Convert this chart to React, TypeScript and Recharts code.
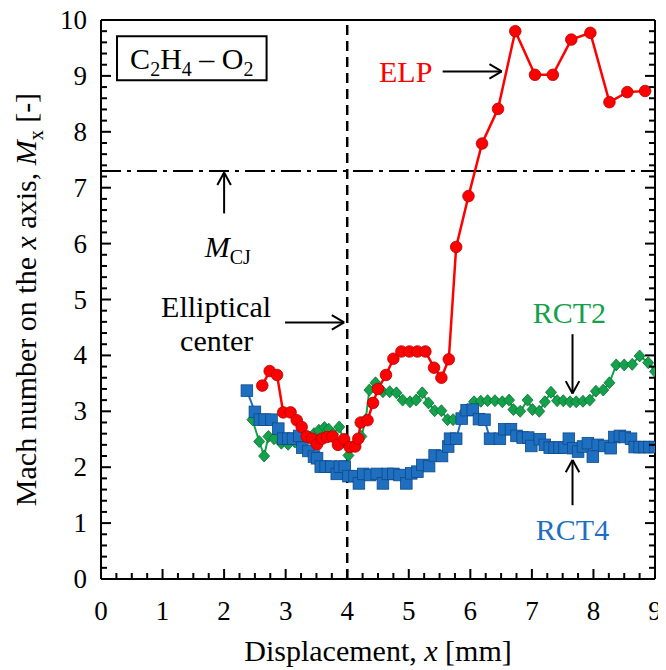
import {
  ComposedChart,
  Line,
  XAxis,
  YAxis,
  ReferenceLine,
  ReferenceArea,
  ReferenceDot,
} from "recharts";

const FONT = '"Liberation Serif", "Times New Roman", serif';

// ELP (red circles)
const elpX = [
  2.62, 2.74, 2.86, 2.96, 3.08, 3.18, 3.26, 3.34, 3.43, 3.51, 3.59, 3.67, 3.76,
  3.85, 3.95, 4.04, 4.13, 4.18, 4.22, 4.33, 4.42, 4.5, 4.63, 4.75, 4.88, 5.01,
  5.14, 5.27, 5.41, 5.53, 5.65, 5.77, 5.97, 6.19, 6.45, 6.73, 7.05, 7.34, 7.64,
  7.95, 8.26, 8.55, 8.84,
];
const elpY = [
  3.46, 3.72, 3.65, 2.98, 2.98, 2.84, 2.72, 2.55, 2.51, 2.41, 2.51, 2.54, 2.55,
  2.4, 2.5, 2.36, 2.37, 2.51, 2.8, 2.84, 3.15, 3.4, 3.65, 3.94, 4.07, 4.07,
  4.07, 4.07, 3.78, 3.6, 3.93, 5.94, 6.85, 7.79, 8.41, 9.8, 9.02, 9.02, 9.65,
  9.77, 8.53, 8.71, 8.73,
];

// RCT2 (green diamonds)
const rct2X = [
  2.46, 2.57, 2.65, 2.72, 2.81, 2.93, 3.04, 3.15, 3.26, 3.36, 3.46, 3.54, 3.63,
  3.7, 3.77, 3.87, 3.95, 4.02, 4.12, 4.23, 4.3, 4.36, 4.46, 4.58, 4.69, 4.8,
  4.9, 5.02, 5.12, 5.22, 5.32, 5.42, 5.53, 5.63, 5.72, 5.91, 6.06, 6.17, 6.28,
  6.4, 6.52, 6.63, 6.7, 6.81, 6.93, 7.01, 7.12, 7.21, 7.31, 7.41, 7.51, 7.62,
  7.72, 7.83, 7.94, 8.04, 8.16, 8.26, 8.37, 8.5, 8.63, 8.75, 8.89, 9.0,
];
const rct2Y = [
  2.85, 2.46, 2.2, 2.55, 2.51, 2.43, 2.41, 2.45, 2.5, 2.55, 2.6, 2.66, 2.71,
  2.68, 2.59, 2.72, 2.45, 2.21, 2.4, 2.55, 2.85, 3.38, 3.51, 3.35, 3.35, 3.33,
  3.2, 3.17, 3.2, 3.33, 3.15, 3.01, 3.01, 2.85, 2.85, 3.0, 3.17, 3.18, 3.19,
  3.19, 3.17, 3.2, 3.03, 3.0, 3.2, 3.03, 3.0, 3.17, 3.34, 3.19, 3.19, 3.17,
  3.17, 3.18, 3.2, 3.36, 3.38, 3.51, 3.83, 3.83, 3.84, 3.99, 3.87, 3.71,
];

// RCT4 (blue squares)
const rct4X = [
  2.37, 2.5, 2.58, 2.66, 2.77, 2.88, 2.96, 3.04, 3.12, 3.22, 3.27, 3.37, 3.46,
  3.51, 3.57, 3.65, 3.74, 3.83, 3.88, 3.96, 4.02, 4.12, 4.19, 4.26, 4.37, 4.48,
  4.58, 4.66, 4.75, 4.85, 4.96, 5.04, 5.14, 5.22, 5.33, 5.42, 5.54, 5.64, 5.67,
  5.77, 5.86, 5.94, 6.04, 6.14, 6.23, 6.32, 6.48, 6.55, 6.66, 6.75, 6.85, 6.94,
  6.99, 7.13, 7.21, 7.29, 7.37, 7.45, 7.53, 7.6, 7.67, 7.75, 7.83, 7.91, 7.99,
  8.07, 8.18, 8.28, 8.34, 8.43, 8.51, 8.61, 8.67, 8.75, 8.83, 8.91, 9.0,
];
const rct4Y = [
  3.37, 2.99, 2.85, 2.85, 2.85, 2.69, 2.51, 2.51, 2.51, 2.56, 2.35, 2.29, 2.19,
  2.16, 2.01, 2.01, 2.01, 1.88, 2.01, 2.01, 1.84, 1.84, 1.71, 1.88, 1.86, 1.88,
  1.71, 1.88, 1.88, 1.86, 1.71, 1.89, 1.92, 2.04, 2.02, 2.21, 2.2, 2.37, 2.51,
  2.51, 2.87, 3.02, 3.03, 2.86, 2.85, 2.51, 2.51, 2.68, 2.68, 2.56, 2.53, 2.53,
  2.38, 2.5, 2.4, 2.35, 2.35, 2.35, 2.35, 2.51, 2.34, 2.28, 2.37, 2.43, 2.19,
  2.4, 2.38, 2.34, 2.54, 2.56, 2.54, 2.51, 2.36, 2.36, 2.36, 2.36, 2.36,
];

const xTickLabels = [0, 1, 2, 3, 4, 5, 6, 7, 8, 9];
const yTickLabels = [0, 1, 2, 3, 4, 5, 6, 7, 8, 9, 10];
const M_CJ = 7.3;
const CENTER_X = 4;

// minor ticks: 4 per unit on x, 5 per unit on y
const xTicks = Array.from({ length: 37 }, (_, i) => i * 0.25);
const yTicks = Array.from({ length: 51 }, (_, i) => Math.round(i * 2) / 10);

const toPoints = (xs: number[], ys: number[]) =>
  xs.map((x, i) => ({ x, y: ys[i] }));
const elpData = toPoints(elpX, elpY);
const rct2Data = toPoints(rct2X, rct2Y);
const rct4Data = toPoints(rct4X, rct4Y);

const isMajor = (v: number) => Math.abs(v - Math.round(v)) < 1e-6;

function BottomTick(props: any) {
  const { x, y, payload } = props;
  const major = isMajor(payload.value);
  return (
    <g>
      <line x1={x} y1={y} x2={x} y2={y - (major ? 10 : 6)} stroke="#000" strokeWidth={2} />
      {major && xTickLabels.includes(Math.round(payload.value)) && (
        <text x={x} y={y + 41} textAnchor="middle" fontSize={27} fontFamily={FONT} fill="#000">
          {Math.round(payload.value)}
        </text>
      )}
    </g>
  );
}

function TopTick(props: any) {
  const { x, y, payload } = props;
  const major = isMajor(payload.value);
  return <line x1={x} y1={y} x2={x} y2={y + (major ? 10 : 6)} stroke="#000" strokeWidth={2} />;
}

function LeftTick(props: any) {
  const { x, y, payload } = props;
  const major = isMajor(payload.value);
  return (
    <g>
      <line x1={x} y1={y} x2={x + (major ? 10 : 6)} y2={y} stroke="#000" strokeWidth={2} />
      {major && yTickLabels.includes(Math.round(payload.value)) && (
        <text x={x - 14} y={y + 9} textAnchor="end" fontSize={27} fontFamily={FONT} fill="#000">
          {Math.round(payload.value)}
        </text>
      )}
    </g>
  );
}

function RightTick(props: any) {
  const { x, y, payload } = props;
  const major = isMajor(payload.value);
  return <line x1={x} y1={y} x2={x - (major ? 10 : 6)} y2={y} stroke="#000" strokeWidth={2} />;
}

const circleDot = (p: any) => (
  <circle key={`e${p.index}`} cx={p.cx} cy={p.cy} r={5.8} fill="#ff0000" stroke="#b40000" strokeWidth={0.8} />
);
const diamondDot = (p: any) => (
  <path
    key={`g${p.index}`}
    d={`M${p.cx},${p.cy - 6}L${p.cx + 5.5},${p.cy}L${p.cx},${p.cy + 6}L${p.cx - 5.5},${p.cy}Z`}
    fill="#13a14b"
    stroke="#0b6e30"
    strokeWidth={0.8}
  />
);
const squareDot = (p: any) => (
  <rect key={`b${p.index}`} x={p.cx - 5.8} y={p.cy - 5.8} width={11.6} height={11.6} fill="#1f6fc1" stroke="#0e4a88" strokeWidth={0.8} />
);

// arrows built from reference segments (data coordinates)
function hArrow(id: string, x1: number, x2: number, y: number) {
  const s = { stroke: "#000", strokeWidth: 2, ifOverflow: "visible" as const };
  return [
    <ReferenceLine key={id + "s"} segment={[{ x: x1, y }, { x: x2, y }]} {...s} />,
    <ReferenceLine key={id + "a"} segment={[{ x: x2 - 0.2, y: y + 0.13 }, { x: x2, y }]} {...s} />,
    <ReferenceLine key={id + "b"} segment={[{ x: x2 - 0.2, y: y - 0.13 }, { x: x2, y }]} {...s} />,
  ];
}
function vArrow(id: string, x: number, y1: number, y2: number) {
  const s = { stroke: "#000", strokeWidth: 2, ifOverflow: "visible" as const };
  const d = y2 > y1 ? -0.22 : 0.22;
  return [
    <ReferenceLine key={id + "s"} segment={[{ x, y: y1 }, { x, y: y2 }]} {...s} />,
    <ReferenceLine key={id + "a"} segment={[{ x: x - 0.11, y: y2 + d }, { x, y: y2 }]} {...s} />,
    <ReferenceLine key={id + "b"} segment={[{ x: x + 0.11, y: y2 + d }, { x, y: y2 }]} {...s} />,
  ];
}

const textShape = (content: any, color = "#000", size = 30) => (p: any) => (
  <text x={p.cx} y={p.cy} dy="0.35em" textAnchor="middle" fontSize={size} fontFamily={FONT} fill={color}>
    {content}
  </text>
);

const yTitle = (p: any) => {
  const vb = p.viewBox;
  const cx = vb.x + 17;
  const cy = vb.y + vb.height / 2;
  return (
    <text x={cx} y={cy} transform={`rotate(-90, ${cx}, ${cy})`} textAnchor="middle" dy="0.35em" fontSize={30} fontFamily={FONT} fill="#000">
      Mach number on the <tspan fontStyle="italic">x</tspan> axis, <tspan fontStyle="italic">M</tspan>
      <tspan fontSize={20} dy={7}>x</tspan>
      <tspan dy={-7}> [-]</tspan>
    </text>
  );
};

const xTitle = (p: any) => {
  const vb = p.viewBox;
  return (
    <text x={vb.x + vb.width / 2} y={vb.y + 82} textAnchor="middle" fontSize={30} fontFamily={FONT} fill="#000">
      Displacement, <tspan fontStyle="italic">x</tspan> [mm]
    </text>
  );
};

const boxLabel = (p: any) => {
  const vb = p.viewBox;
  return (
    <text x={vb.x + vb.width / 2} y={vb.y + vb.height / 2} dy="0.35em" textAnchor="middle" fontSize={30} fontFamily={FONT} fill="#000">
      C<tspan fontSize={20} dy={7}>2</tspan>
      <tspan dy={-7}>H</tspan>
      <tspan fontSize={20} dy={7}>4</tspan>
      <tspan dy={-7}> – O</tspan>
      <tspan fontSize={20} dy={7}>2</tspan>
    </text>
  );
};

export default function App() {
  return (
    <div style={{ width: 666, height: 670, margin: "-8px 0 0 -8px" }}>
      <ComposedChart width={666} height={670} margin={{ top: 19, right: 10, bottom: 1, left: 8 }}>
        <XAxis
          type="number"
          dataKey="x"
          domain={[0, 9]}
          allowDataOverflow
          ticks={xTicks}
          interval={0}
          tickLine={false}
          tickSize={0}
          tickMargin={0}
          tick={<BottomTick />}
          axisLine={{ stroke: "#000", strokeWidth: 2 }}
          height={90}
          label={xTitle}
        />
        <XAxis
          xAxisId="top"
          orientation="top"
          type="number"
          domain={[0, 9]}
          allowDataOverflow
          ticks={xTicks}
          interval={0}
          tickLine={false}
          tickSize={0}
          tickMargin={0}
          tick={<TopTick />}
          axisLine={{ stroke: "#000", strokeWidth: 2 }}
          height={1}
        />
        <YAxis
          type="number"
          domain={[0, 10]}
          allowDataOverflow
          ticks={yTicks}
          interval={0}
          tickLine={false}
          tickSize={0}
          tickMargin={0}
          tick={<LeftTick />}
          axisLine={{ stroke: "#000", strokeWidth: 2 }}
          width={93}
          label={yTitle}
        />
        <YAxis
          yAxisId="right"
          orientation="right"
          type="number"
          domain={[0, 10]}
          allowDataOverflow
          ticks={yTicks}
          interval={0}
          tickLine={false}
          tickSize={0}
          tickMargin={0}
          tick={<RightTick />}
          axisLine={{ stroke: "#000", strokeWidth: 2 }}
          width={1}
        />

        <ReferenceArea
          x1={0.26}
          x2={2.69}
          y1={8.92}
          y2={9.71}
          fill="#fff"
          fillOpacity={1}
          stroke="#000"
          strokeWidth={2}
          label={boxLabel}
        />
        <ReferenceLine x={CENTER_X} stroke="#000" strokeWidth={2.5} strokeDasharray="10 6" />
        <ReferenceLine y={M_CJ} stroke="#000" strokeWidth={2} strokeDasharray="20 6 4 6" />

        {hArrow("elp", 5.55, 6.51, 9.08)}
        {hArrow("ell", 2.99, 3.95, 4.59)}
        {vArrow("mcj", 2.0, 6.54, 7.27)}
        {vArrow("r2", 7.66, 4.38, 3.32)}
        {vArrow("r4", 7.66, 1.32, 2.13)}

        <ReferenceDot x={4.95} y={9.07} r={1} shape={textShape("ELP", "#ff0000")} />
        <ReferenceDot x={7.61} y={4.77} r={1} shape={textShape("RCT2", "#13a14b")} />
        <ReferenceDot x={7.66} y={0.89} r={1} shape={textShape("RCT4", "#1f6fc1")} />
        <ReferenceDot x={1.87} y={4.88} r={1} shape={textShape("Elliptical")} />
        <ReferenceDot x={1.88} y={4.27} r={1} shape={textShape("center")} />
        <ReferenceDot
          x={2.06}
          y={5.95}
          r={1}
          shape={textShape(
            <>
              <tspan fontStyle="italic">M</tspan>
              <tspan fontSize={20} dy={7}>CJ</tspan>
            </>
          )}
        />

        <Line
          data={rct2Data}
          dataKey="y"
          stroke="#13a14b"
          strokeWidth={2}
          dot={diamondDot}
          isAnimationActive={false}
        />
        <Line
          data={rct4Data}
          dataKey="y"
          stroke="#1f6fc1"
          strokeWidth={2}
          dot={squareDot}
          isAnimationActive={false}
        />
        <Line
          data={elpData}
          dataKey="y"
          stroke="#ff0000"
          strokeWidth={2.5}
          dot={circleDot}
          isAnimationActive={false}
        />
      </ComposedChart>
    </div>
  );
}
